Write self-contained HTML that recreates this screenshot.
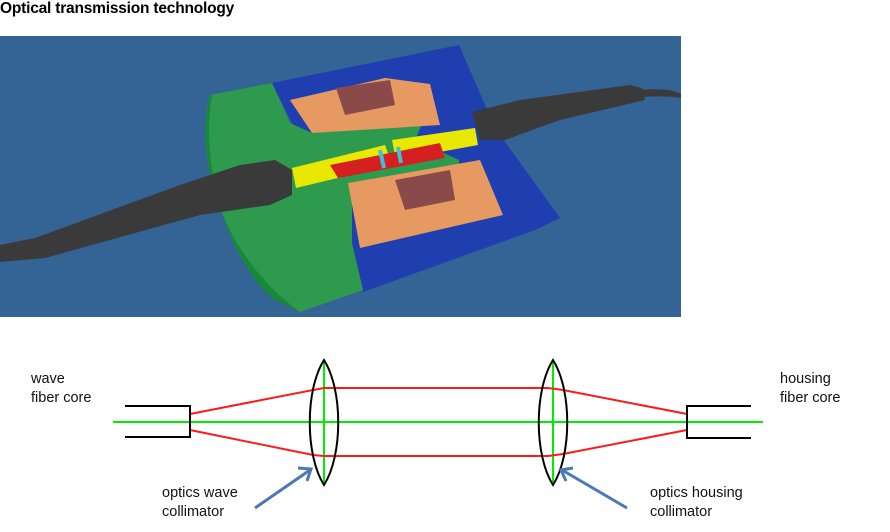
<!DOCTYPE html>
<html><head><style>
body{margin:0;background:#fff;width:890px;height:532px;overflow:hidden;font-family:"Liberation Sans",sans-serif;}
.t{position:absolute;font-size:14.5px;color:#111;line-height:19px;}
</style></head><body>
<div style="position:absolute;left:0;top:0;font-weight:bold;font-size:15.5px;letter-spacing:-0.2px;">Optical transmission technology</div>
<svg width="890" height="532" style="position:absolute;left:0;top:0">
<rect x="0" y="36" width="681" height="281" fill="#346395"/>
<!-- blue housing -->
<polygon points="272,83 459,45 495,128 560,218 535,230 363,292 330,200" fill="#1f3fb0"/>
<!-- green face -->
<path d="M272,83 L210,95 C195,150 215,250 300,312 L363,290 L352,243 L352,203 L459,172 L459,160 L415,140 L428,110 L312,133 L290,123 Z" fill="#2e9a4e"/>
<path d="M210,95 C195,150 215,250 300,312 L275,300 C225,260 200,160 212,96 Z" fill="#178a3a"/>
<!-- orange blocks -->
<polygon points="290,100 385,78 430,84 440,125 312,133" fill="#e69a62"/>
<polygon points="336,88 390,80 395,105 345,115" fill="#8a4a4a"/>
<polygon points="348,183 480,160 503,215 360,248" fill="#e69a62"/>
<polygon points="395,180 450,170 455,200 405,210" fill="#8a4a4a"/>
<!-- rods -->
<polygon points="292,168 385,145 392,165 296,188" fill="#e8e800"/>
<polygon points="392,140 475,128 478,145 396,160" fill="#e8e800"/>
<polygon points="330,165 440,143 445,158 338,178" fill="#d42020"/>
<line x1="380" y1="150" x2="384" y2="168" stroke="#40c0e0" stroke-width="4"/>
<line x1="398" y1="147" x2="401" y2="163" stroke="#40c0e0" stroke-width="4"/>
<!-- connectors -->
<path d="M0,245 L35,238 L180,185 L240,165 L275,160 L292,170 L292,195 L270,205 L200,215 L45,258 L0,262 Z" fill="#3a3a3a"/>
<path d="M472,112 L520,100 L630,85 L642,88 L645,100 L560,120 L505,140 L480,140 Z" fill="#3a3a3a"/>
<path d="M640,90 C660,88 675,90 681,94 L681,98 C670,96 655,96 642,97 Z" fill="#3a3a3a"/>
<!-- diagram -->
<line x1="113" y1="422" x2="763" y2="422" stroke="#00ee00" stroke-width="2"/>
<line x1="324" y1="362" x2="324" y2="482" stroke="#00ee00" stroke-width="2"/>
<line x1="553" y1="362" x2="553" y2="482" stroke="#00ee00" stroke-width="2"/>
<polyline points="190,414 313,390 324,388 548,388 563,390 687,414" fill="none" stroke="#ff1a1a" stroke-width="2"/>
<polyline points="190,430 313,455 324,456 548,456 563,454 687,430" fill="none" stroke="#ff1a1a" stroke-width="2"/>
<path d="M125,406 L190,406 L190,437 L125,437" fill="none" stroke="#000" stroke-width="2"/>
<path d="M751,406 L687,406 L687,438 L751,438" fill="none" stroke="#000" stroke-width="2"/>
<path d="M324,360 C305,390 305,455 324,485 C343,455 343,390 324,360 Z" fill="none" stroke="#000" stroke-width="2"/>
<path d="M553,360 C534,390 534,455 553,485 C572,455 572,390 553,360 Z" fill="none" stroke="#000" stroke-width="2"/>
<g stroke="#4a7ab5" stroke-width="3" fill="none">
<line x1="255" y1="508" x2="310" y2="470"/><polyline points="298,468 311,469 307,481"/>
<line x1="627" y1="508" x2="562" y2="470"/><polyline points="573,468 561,470 566,481"/>
</g>
</svg>
<div class="t" style="left:31px;top:370px">wave<br>fiber core</div>
<div class="t" style="left:780px;top:370px">housing<br>fiber core</div>
<div class="t" style="left:162px;top:484px">optics wave<br>collimator</div>
<div class="t" style="left:650px;top:484px">optics housing<br>collimator</div>
</body></html>
